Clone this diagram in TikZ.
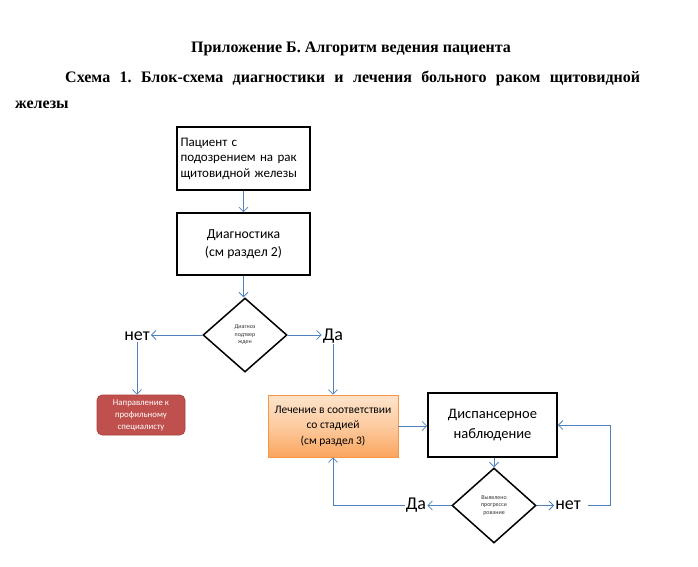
\documentclass[tikz,border=0pt]{standalone}
\usepackage{fontspec}
\setmainfont{Liberation Serif}
\newfontfamily\calib{Carlito}
\usetikzlibrary{shapes.geometric,arrows.meta}
\definecolor{arrowblue}{HTML}{4F81BD}
\definecolor{redfill}{HTML}{C0504D}
\definecolor{redline}{HTML}{A9403D}
\definecolor{orangetop}{HTML}{FEE4CB}
\definecolor{orangebot}{HTML}{FAA55E}
\definecolor{orangeline}{HTML}{F79646}
\frenchspacing
\tikzset{
  blackbox/.style={draw=black, line width=1.7pt, minimum width=133pt, inner sep=3pt, font=\calib},
  decision/.style={draw=black, line width=1.5pt, diamond, inner sep=0pt, minimum width=84pt, minimum height=74pt, align=center, font=\calib\fontsize{6}{7.5}\selectfont, text=black!80},
  answer/.style={font=\calib\fontsize{18}{20}\selectfont, inner sep=1pt},
  flow/.style={draw=arrowblue, line width=0.8pt, -{Straight Barb[length=4.5pt,width=9pt]}},
  flowline/.style={draw=arrowblue, line width=0.8pt}
}
\begin{document}
\begin{tikzpicture}[x=1pt,y=-1pt]
\useasboundingbox (0,0) rectangle (698,566);
% heading
\node[font=\bfseries\fontsize{16}{18}\selectfont, anchor=base] (title) at (351,52) {Приложение Б. Алгоритм ведения пациента};
\node[font=\bfseries\fontsize{16}{18}\selectfont, anchor=base west, inner sep=0pt] (line2) at (65,82) {\makebox[575pt][s]{Схема 1. Блок-схема диагностики и лечения больного раком щитовидной}};
\node[font=\bfseries\fontsize{16}{18}\selectfont, anchor=base west, inner sep=0pt] (line3) at (15,108) {железы};
% boxes
\node[blackbox, minimum height=63pt, text width=126pt, align=left, font=\calib\fontsize{13}{15.5}\selectfont] (patient) at (243.5,158.5) {Пациент с\\подозрением на рак\\щитовидной железы};
\node[blackbox, minimum height=62pt, align=center, font=\calib\fontsize{13.7}{18.5}\selectfont] (diag) at (243.5,244) {Диагностика\\(см раздел 2)};
\node[decision] (d1) at (245,335) {Диагноз\\подтвер\\жден};
\node[answer] (no1) at (137,336) {нет};
\node[answer] (yes1) at (333,336) {Да};
\node[draw=redline, fill=redfill, rounded corners=5pt, line width=0.6pt, minimum width=88pt, minimum height=40pt, align=center, text=white, font=\calib\fontsize{8.8}{12}\selectfont, inner sep=1pt] (refer) at (141,415) {Направление к\\профильному\\специалисту};
\node[draw=orangeline, line width=0.7pt, top color=orangetop, bottom color=orangebot, middle color=orangetop!60!orangebot, minimum width=130pt, minimum height=62pt, align=center, font=\calib\fontsize{11.5}{15.5}\selectfont, inner sep=1pt] (treat) at (333,426) {Лечение в соответствии\\со стадией\\(см раздел 3)};
\node[blackbox, minimum width=129pt, minimum height=64pt, align=center, font=\calib\fontsize{14.5}{20}\selectfont] (disp) at (492.5,425) {Диспансерное\\наблюдение};
\node[decision, minimum height=75pt] (d2) at (494,505.5) {Выявлено\\прогресси\\рование};
\node[answer] (yes2) at (416,505.5) {Да};
\node[answer] (no2) at (568,505.5) {нет};
\coordinate (loop) at (610,505.5);
% connectors
\draw[flow] (patient.south) -- (diag.north);
\draw[flow] (diag.south) -- (diag.south |- d1.north);
\draw[flow] (d1.west) -- (d1.west -| no1.east);
\draw[flow] (d1.east) -- (d1.east -| yes1.west);
\draw[flow] (no1.south) -- (no1.south |- refer.north);
\draw[flow] (yes1.south) -- (treat.north);
\draw[flow] (treat.east) -- (treat.east -| disp.west);
\draw[flow] (d2.north |- disp.south) -- (d2.north);
\draw[flow] (d2.west) -- (yes2.east);
\draw[flow] (yes2.west) -| (treat.south);
\draw[flow] (d2.east) -- (no2.west);
\draw[flow] ([xshift=6pt]no2.east) -- (loop) |- (disp.east);
\end{tikzpicture}
\end{document}
